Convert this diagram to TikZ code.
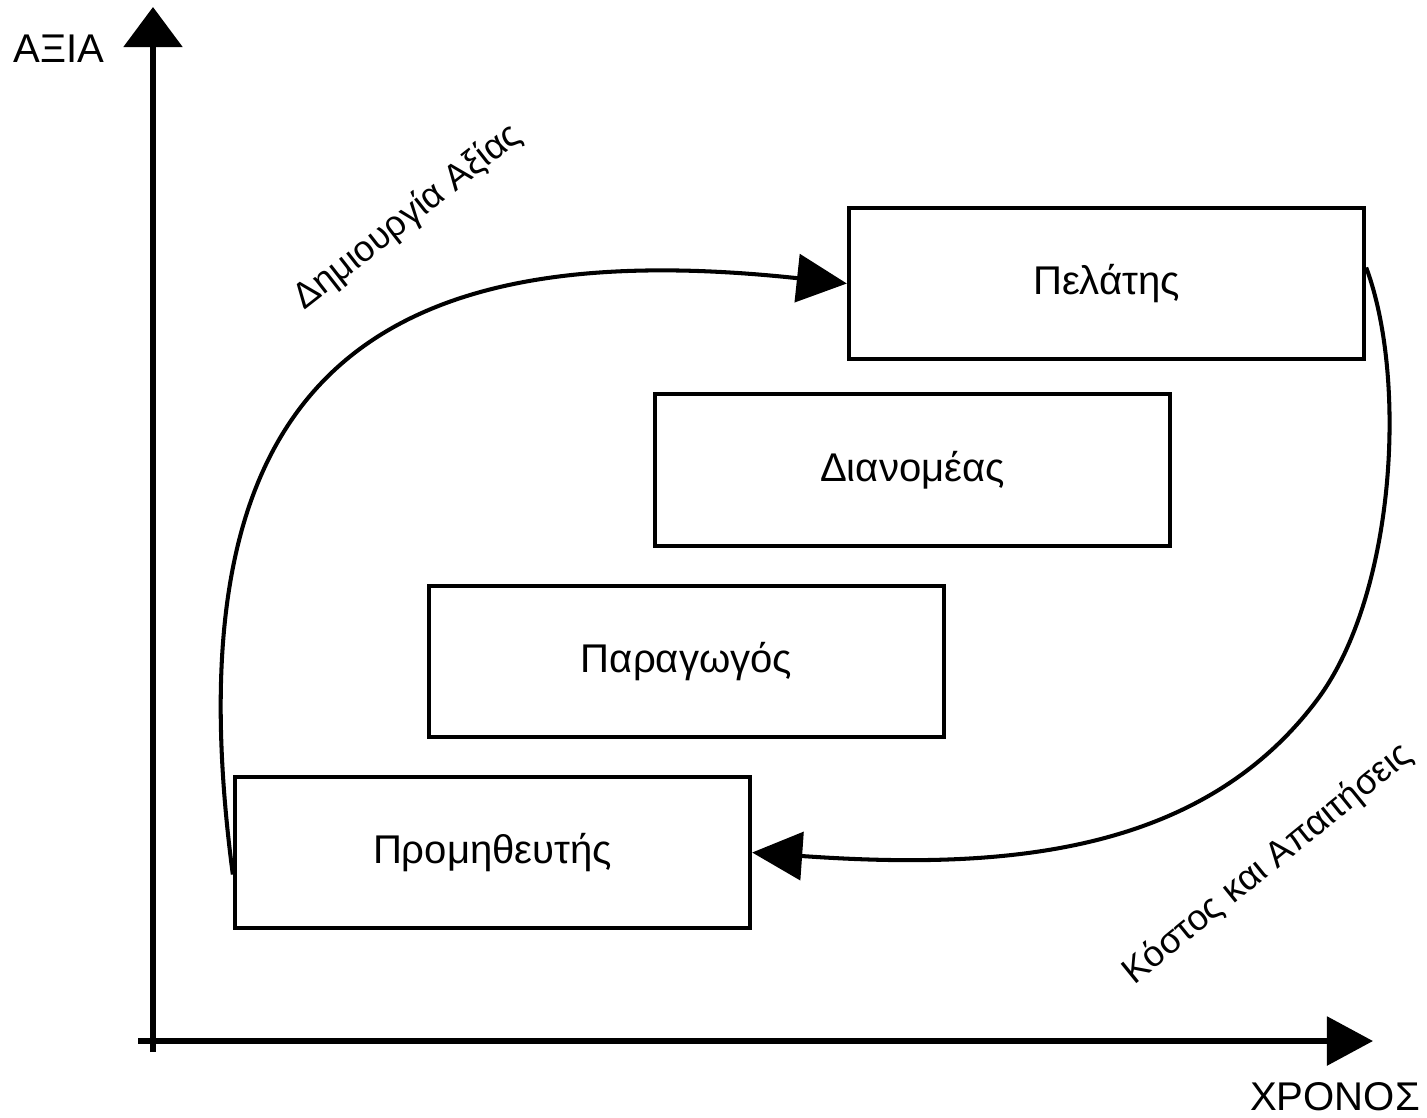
\documentclass[tikz,border=0pt]{standalone}
\usepackage{fontspec}
\setmainfont{Liberation Sans}
\usetikzlibrary{arrows.meta}
\tikzstyle{boxStyle}=[shape = rectangle, draw, line width = 1.15pt, minimum width = 5.15cm, minimum height = 1.51cm, inner sep = 0pt]
\tikzstyle{flowStyle}=[line width = 1.15pt, -{Triangle[length = 0.5cm, width = 0.48cm]}]
\tikzstyle{axisStyle}=[line width = 1.6pt]
\tikzstyle{slantStyle}=[font = \fontsize{10.3pt}{12pt}\selectfont]

\begin{document}
\begin{tikzpicture}[x = 0.01cm, y = -0.01cm, font = \fontsize{11.4pt}{13pt}\selectfont]
\useasboundingbox (0,0) rectangle (1427,1117);
% axes
\coordinate (yBottom) at (153,1052);
\coordinate (yTop) at (153,7);
\coordinate (xLeft) at (138,1041);
\coordinate (xRight) at (1373,1041);
\draw[axisStyle, -{Triangle[length = 0.4cm, width = 0.58cm]}] (yBottom) -- (yTop);
\draw[axisStyle, -{Triangle[length = 0.46cm, width = 0.48cm]}] (xLeft) -- (xRight);
\node (lblValue) at (59,49) {ΑΞΙΑ};
\node (lblTime) at (1335,1097) {ΧΡΟΝΟΣ};
% boxes
\node[boxStyle] (pel) at (1106.5,283.5) {Πελάτης};
\node[boxStyle] (dian) at (912.5,470) {Διανομέας};
\node[boxStyle] (parag) at (686.5,661.5) {Παραγωγός};
\node[boxStyle] (prom) at (492.5,852.5) {Προμηθευτής};
% flows
\draw[flowStyle] ([yshift = -0.22cm]prom.west) .. controls (170,400) and (350,230) .. (pel.west);
\draw[flowStyle] ([yshift = 0.16cm]pel.east) .. controls (1408,380) and (1395,596) .. (1317,700)
  .. controls (1200,856) and (1000,870) .. (prom.east);
\node[slantStyle, rotate = 38] (lblCreate) at (408,217) {Δημιουργία Αξίας};
\node[slantStyle, rotate = 39] (lblCost) at (1268,864) {Κόστος και Απαιτήσεις};
\end{tikzpicture}
\end{document}
